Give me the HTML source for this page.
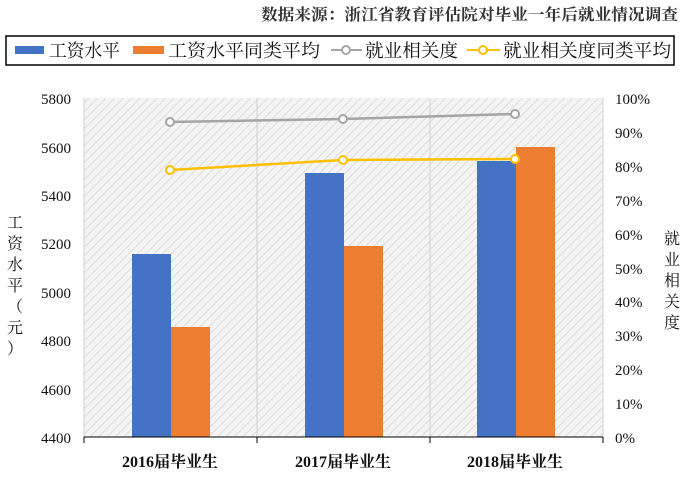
<!DOCTYPE html><html><head><meta charset="utf-8"><style>body{margin:0;background:#fff}</style></head><body>
<svg width="689" height="478" xmlns="http://www.w3.org/2000/svg" font-family="'Liberation Serif','Noto Serif CJK SC',serif">
<defs><pattern id="h" width="6" height="6" patternUnits="userSpaceOnUse" patternTransform="rotate(45)"><rect width="6" height="6" fill="#f4f4f4"/><line x1="0" y1="0" x2="0" y2="6" stroke="#dcdcdc" stroke-width="2"/></pattern></defs>
<text x="261" y="20" textLength="417" lengthAdjust="spacingAndGlyphs" font-size="16" font-weight="bold" fill="#333">数据来源：浙江省教育评估院对毕业一年后就业情况调查</text>
<rect x="6" y="36" width="668" height="29" fill="#fff" stroke="#000" stroke-width="1.5"/>
<g font-size="18" fill="#111">
<rect x="15" y="46" width="29" height="8" fill="#4472c4"/><text x="49" y="57" textLength="71" lengthAdjust="spacingAndGlyphs">工资水平</text>
<rect x="133" y="46" width="31" height="8" fill="#ed7d31"/><text x="168" y="57" textLength="152" lengthAdjust="spacingAndGlyphs">工资水平同类平均</text>
<line x1="331" y1="50" x2="362" y2="50" stroke="#a5a5a5" stroke-width="2"/><circle cx="346" cy="50" r="4" fill="#fff" stroke="#a5a5a5" stroke-width="2"/><text x="365" y="57" textLength="93" lengthAdjust="spacingAndGlyphs">就业相关度</text>
<line x1="467" y1="50" x2="500" y2="50" stroke="#ffc000" stroke-width="2"/><circle cx="483" cy="50" r="4" fill="#fff" stroke="#ffc000" stroke-width="2"/><text x="503" y="57" textLength="168" lengthAdjust="spacingAndGlyphs">就业相关度同类平均</text>
</g>
<rect x="84" y="98" width="519" height="339" fill="url(#h)"/>
<g stroke="#d0d0d0"><line x1="84" y1="98" x2="84" y2="437"/><line x1="257" y1="98" x2="257" y2="437"/><line x1="430" y1="98" x2="430" y2="437"/><line x1="603" y1="98" x2="603" y2="437"/></g>
<rect x="132" y="254" width="39" height="183" fill="#4472c4"/>
<rect x="171" y="327" width="39" height="110" fill="#ed7d31"/>
<rect x="305" y="173" width="39" height="264" fill="#4472c4"/>
<rect x="344" y="246" width="39" height="191" fill="#ed7d31"/>
<rect x="477" y="161" width="39" height="276" fill="#4472c4"/>
<rect x="516" y="147" width="39" height="290" fill="#ed7d31"/>
<line x1="84" y1="437" x2="603" y2="437" stroke="#000"/>
<g stroke="#000"><line x1="84" y1="437" x2="84" y2="443"/><line x1="257" y1="437" x2="257" y2="443"/><line x1="430" y1="437" x2="430" y2="443"/><line x1="603" y1="437" x2="603" y2="443"/></g>
<polyline points="170,122 343,119 515,114" fill="none" stroke="#a5a5a5" stroke-width="2.5"/>
<g fill="#fff" stroke="#a5a5a5" stroke-width="2"><circle cx="170" cy="122" r="4"/><circle cx="343" cy="119" r="4"/><circle cx="515" cy="114" r="4"/></g>
<polyline points="170,170 343,160 515,159" fill="none" stroke="#ffc000" stroke-width="2.5"/>
<g fill="#fff" stroke="#ffc000" stroke-width="2"><circle cx="170" cy="170" r="4"/><circle cx="343" cy="160" r="4"/><circle cx="515" cy="159" r="4"/></g>
<g font-size="15" fill="#111" text-anchor="end">
<text x="71" y="104">5800</text><text x="71" y="153">5600</text><text x="71" y="201">5400</text><text x="71" y="249">5200</text><text x="71" y="298">5000</text><text x="71" y="346">4800</text><text x="71" y="395">4600</text><text x="71" y="443">4400</text>
</g>
<g font-size="15" fill="#111">
<text x="615" y="104">100%</text><text x="615" y="138">90%</text><text x="615" y="172">80%</text><text x="615" y="206">70%</text><text x="615" y="240">60%</text><text x="615" y="274">50%</text><text x="615" y="307">40%</text><text x="615" y="341">30%</text><text x="615" y="375">20%</text><text x="615" y="409">10%</text><text x="615" y="443">0%</text>
</g>
<g font-size="16" font-weight="bold" fill="#111" text-anchor="middle">
<text x="170" y="467">2016届毕业生</text><text x="343" y="467">2017届毕业生</text><text x="515" y="467">2018届毕业生</text>
</g>
<g font-size="16" fill="#111" text-anchor="middle">
<text x="15" y="228">工</text><text x="15" y="249">资</text><text x="15" y="270">水</text><text x="15" y="291">平</text><text x="15" y="312">（</text><text x="15" y="333">元</text><text x="15" y="354">）</text>
<text x="672" y="244">就</text><text x="672" y="265">业</text><text x="672" y="286">相</text><text x="672" y="307">关</text><text x="672" y="328">度</text>
</g>
</svg>
</body></html>
